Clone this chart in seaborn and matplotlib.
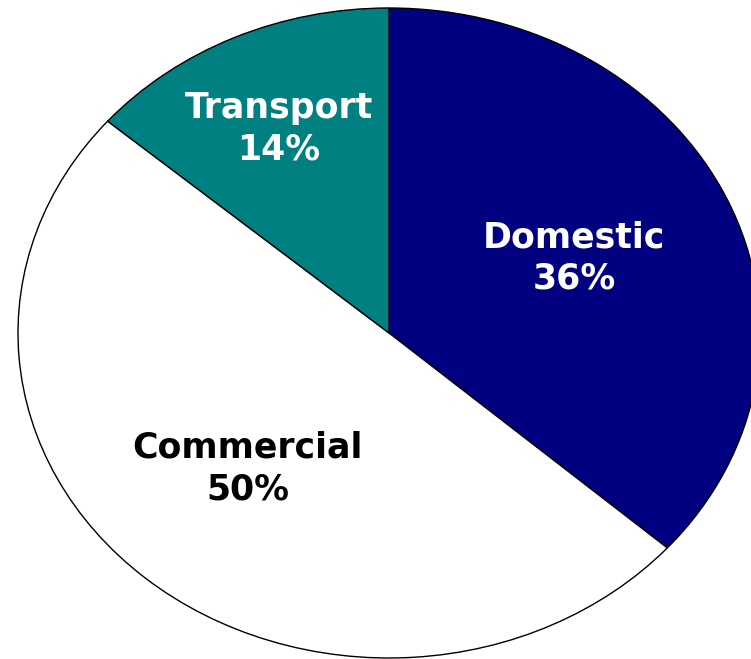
import matplotlib
matplotlib.use("Agg")
import matplotlib.pyplot as plt
import seaborn as sns

# ---- data ----
categories = ["Domestic", "Commercial", "Transport"]
shares = [36.5, 49.8, 13.7]           # slice sizes read from the wedge boundaries
pct_labels = ["36%", "50%", "14%"]    # printed labels
colors = ["#000080", "#FFFFFF", "#008080"]
text_colors = ["white", "black", "white"]

sns.set_theme(style="white")
plt.rcParams["font.family"] = ["DejaVu Sans"]

W, H, DPI = 751, 659, 100
fig = plt.figure(figsize=(W / DPI, H / DPI), dpi=DPI)
ax = fig.add_axes([0, 0, 1, 1])

wedges, _ = ax.pie(
    shares,
    colors=colors,
    startangle=90,
    counterclock=False,
    wedgeprops=dict(edgecolor="black", linewidth=1.0),
)

# elliptical pie: stretch horizontally like the reference
cx, cy, rx, ry = 389, 333, 371, 325
ax.set_aspect("auto")
ax.set_xlim(-cx / rx, (W - cx) / rx)
ax.set_ylim(-(H - cy) / ry, cy / ry)
ax.axis("off")

# label anchor positions (axes data units)
label_pos = [(0.4987, 0.2310), (-0.3814, -0.4170), (-0.2978, 0.6280)]

for name, pct, tc, (x, y) in zip(categories, pct_labels, text_colors, label_pos):
    ax.text(x, y, f"{name}\n{pct}", ha="center", va="center",
            color=tc, fontsize=25, fontweight="bold", linespacing=1.27,
            multialignment="center")

fig.savefig("out.png", dpi=DPI)
